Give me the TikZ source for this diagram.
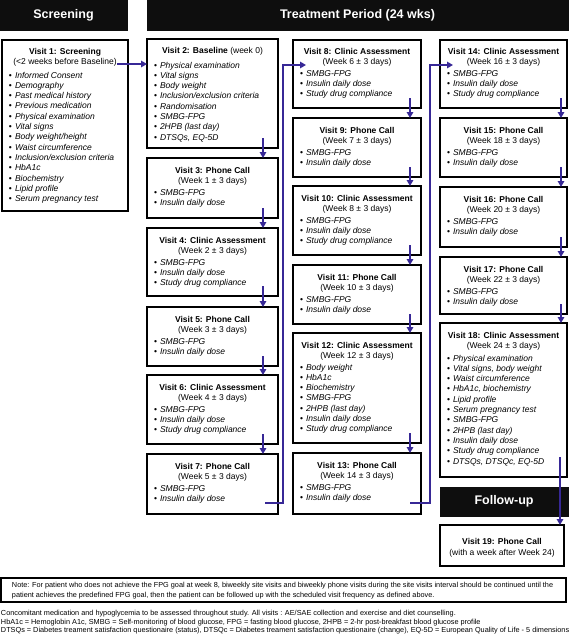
\documentclass[tikz,border=0pt]{standalone}
\usepackage{fontspec}
\setmainfont{Liberation Sans}
\usetikzlibrary{arrows.meta}
\definecolor{arrblue}{RGB}{55,40,150}
\definecolor{hdrblack}{RGB}{14,14,14}
\tikzset{
  vbox/.style={draw=black, line width=1.1pt, inner sep=0, outer sep=0, rectangle},
  hdr/.style={fill=hdrblack, draw=hdrblack, inner sep=0, outer sep=0, rectangle, text=white, font=\fontsize{12.5}{14}\selectfont\bfseries},
  txt/.style={inner sep=0, outer sep=0, font=\fontsize{8.5}{10}\selectfont},
  arr/.style={draw=arrblue, line width=1.7pt, -{Triangle[length=6pt,width=6.5pt]}},
  small/.style={inner sep=0, outer sep=0, font=\fontsize{7.3}{8}\selectfont, anchor=base west}
}
% #1 name, #2 x, #3 y, #4 w, #5 h, #6 title lines, #7 first bullet baseline offset, #8 items
\newcommand{\visitbox}[8]{%
  \node[vbox, minimum width=#4pt, minimum height=#5pt] (#1) at ({#2+#4/2},{#3+#5/2}) {};
  \foreach \t [count=\i from 0] in {#6} {
    \node[txt, anchor=base] (#1-t\i) at ({#2+#4/2},{#3+15+10*\i}) {\t};
  }
  \foreach \t [count=\i from 0] in {#8} {
    \node[txt, anchor=base west] (#1-b\i) at ({#2+7},{#3+#7+10.3*\i}) {\makebox[6pt][l]{\textbullet}\textit{\t}};
  }
}
\begin{document}
\begin{tikzpicture}[x=1pt,y=-1pt]
\useasboundingbox (0,0) rectangle (568,634);
\fill[white] (0,0) rectangle (568,634);

% headers
\node[hdr, minimum width=127pt, minimum height=30pt] (hscr) at (63.5,15) {Screening};
\node[hdr, minimum width=421pt, minimum height=30pt] (htrt) at (357.5,15) {Treatment Period (24 wks)};
\node[hdr, minimum width=128pt, minimum height=29pt] (hfol) at (504,501.5) {Follow-up};

% column 1
\visitbox{v1}{2}{40}{126}{171}{{\textbf{Visit 1: Screening}},{(<2 weeks before Baseline)}}{38}
 {Informed Consent,Demography,Past medical history,Previous medication,Physical examination,Vital signs,Body weight/height,Waist circumference,Inclusion/exclusion criteria,HbA1c,Biochemistry,Lipid profile,Serum pregnancy test}

% column 2
\visitbox{v2}{147}{39}{131}{109}{{\textbf{Visit 2: Baseline} (week 0)}}{29}
 {Physical examination,Vital signs,Body weight,Inclusion/exclusion criteria,Randomisation,SMBG-FPG,2HPB (last day),{DTSQs, EQ-5D}}
\visitbox{v3}{147}{158}{131}{60}{{\textbf{Visit 3: Phone Call}},{(Week 1 ± 3 days)}}{37}
 {SMBG-FPG,Insulin daily dose}
\visitbox{v4}{147}{228}{131}{68}{{\textbf{Visit 4: Clinic Assessment}},{(Week 2 ± 3 days)}}{37}
 {SMBG-FPG,Insulin daily dose,Study drug compliance}
\visitbox{v5}{147}{307}{131}{59}{{\textbf{Visit 5: Phone Call}},{(Week 3 ± 3 days)}}{37}
 {SMBG-FPG,Insulin daily dose}
\visitbox{v6}{147}{375}{131}{69}{{\textbf{Visit 6: Clinic Assessment}},{(Week 4 ± 3 days)}}{37}
 {SMBG-FPG,Insulin daily dose,Study drug compliance}
\visitbox{v7}{147}{454}{131}{60}{{\textbf{Visit 7: Phone Call}},{(Week 5 ± 3 days)}}{37}
 {SMBG-FPG,Insulin daily dose}

% column 3
\visitbox{v8}{293}{40}{128}{68}{{\textbf{Visit 8: Clinic Assessment}},{(Week 6 ± 3 days)}}{36}
 {SMBG-FPG,Insulin daily dose,Study drug compliance}
\visitbox{v9}{293}{118}{128}{59}{{\textbf{Visit 9: Phone Call}},{(Week 7 ± 3 days)}}{37}
 {SMBG-FPG,Insulin daily dose}
\visitbox{v10}{293}{186}{128}{69}{{\textbf{Visit 10: Clinic Assessment}},{(Week 8 ± 3 days)}}{37}
 {SMBG-FPG,Insulin daily dose,Study drug compliance}
\visitbox{v11}{293}{265}{128}{59}{{\textbf{Visit 11: Phone Call}},{(Week 10 ± 3 days)}}{37}
 {SMBG-FPG,Insulin daily dose}
\visitbox{v12}{293}{333}{128}{110}{{\textbf{Visit 12: Clinic Assessment}},{(Week 12 ± 3 days)}}{37}
 {Body weight,HbA1c,Biochemistry,SMBG-FPG,2HPB (last day),Insulin daily dose,Study drug compliance}
\visitbox{v13}{293}{453}{128}{61}{{\textbf{Visit 13: Phone Call}},{(Week 14 ± 3 days)}}{37}
 {SMBG-FPG,Insulin daily dose}

% column 4
\visitbox{v14}{440}{40}{127}{68}{{\textbf{Visit 14: Clinic Assessment}},{(Week 16 ± 3 days)}}{36}
 {SMBG-FPG,Insulin daily dose,Study drug compliance}
\visitbox{v15}{440}{118}{127}{59}{{\textbf{Visit 15: Phone Call}},{(Week 18 ± 3 days)}}{37}
 {SMBG-FPG,Insulin daily dose}
\visitbox{v16}{440}{187}{127}{60}{{\textbf{Visit 16: Phone Call}},{(Week 20 ± 3 days)}}{37}
 {SMBG-FPG,Insulin daily dose}
\visitbox{v17}{440}{257}{127}{57}{{\textbf{Visit 17: Phone Call}},{(Week 22 ± 3 days)}}{37}
 {SMBG-FPG,Insulin daily dose}
\visitbox{v18}{440}{323}{127}{154}{{\textbf{Visit 18: Clinic Assessment}},{(Week 24 ± 3 days)}}{38}
 {Physical examination,{Vital signs, body weight},Waist circumference,{HbA1c, biochemistry},Lipid profile,Serum pregnancy test,SMBG-FPG,2HPB (last day),Insulin daily dose,Study drug compliance,{DTSQs, DTSQc, EQ-5D}}

% visit 19
\node[vbox, minimum width=124pt, minimum height=41pt] (v19) at (502,545.5) {};
\node[txt, anchor=base] (v19-t0) at (502,544) {\textbf{Visit 19: Phone Call}};
\node[txt, anchor=base] (v19-t1) at (502,555) {(with a week after Week 24)};

% connectors
\draw[arr] ([xshift=-11pt,yshift=-24pt]v1.north east) -- ([yshift=-25pt]v2.north west);
\foreach \a/\b in {v2/v3,v3/v4,v4/v5,v5/v6,v6/v7}
  \draw[arr] ([xshift=-15pt,yshift=10pt]\a.south east) -- ([xshift=-15pt]\b.north east);
\foreach \a/\b in {v8/v9,v9/v10,v10/v11,v11/v12,v12/v13}
  \draw[arr] ([xshift=-11pt,yshift=10pt]\a.south east) -- ([xshift=-11pt]\b.north east);
\foreach \a/\b in {v14/v15,v15/v16,v16/v17,v17/v18}
  \draw[arr] ([xshift=-6pt,yshift=10pt]\a.south east) -- ([xshift=-6pt]\b.north east);
\draw[arr] ([xshift=-13pt,yshift=11pt]v7.south east) -- ++(18,0) |- ([xshift=13pt,yshift=-25pt]v8.north west);
\draw[arr] ([xshift=-11pt,yshift=11pt]v13.south east) -- ++(20,0) |- ([xshift=13pt,yshift=-25pt]v14.north west);
\draw[arr] ([xshift=-7pt,yshift=20pt]v18.south east) -- ([xshift=-4pt]v19.north east);

% note box
\node[vbox, minimum width=565pt, minimum height=24pt] (note) at (283.5,590) {};
\node[small] (note1) at (12,587.5) {Note: For patient who does not achieve the FPG goal at week 8, biweekly site visits and biweekly phone visits during the site visits interval should be continued until the};
\node[small] (note2) at (12,597.5) {patient achieves the predefined FPG goal, then the patient can be followed up with the scheduled visit frequency as defined above.};

% footer
\node[small] (f1) at (1,615.5) {Concomitant medication and hypoglycemia to be assessed throughout study. All visits : AE/SAE collection and exercise and diet counselling.};
\node[small] (f2) at (1,624) {HbA1c = Hemoglobin A1c, SMBG = Self-monitoring of blood glucose, FPG = fasting blood glucose, 2HPB = 2-hr post-breakfast blood glucose profile};
\node[small] (f3) at (1,632.5) {DTSQs = Diabetes treament satisfaction questionaire (status), DTSQc = Diabetes treament satisfaction questionaire (change), EQ-5D = European Quality of Life - 5 dimensions};
\end{tikzpicture}
\end{document}
